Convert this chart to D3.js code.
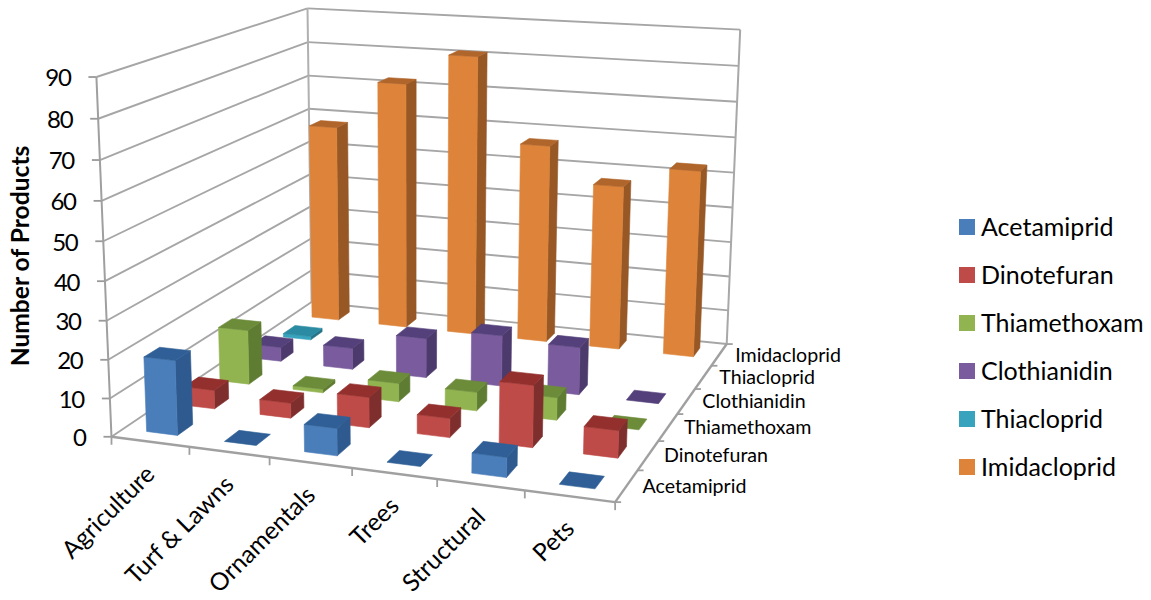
<!DOCTYPE html>
<html><head><meta charset="utf-8">
<script src="https://cdn.jsdelivr.net/npm/d3@7/dist/d3.min.js"></script>
<style>html,body{margin:0;background:#fff}svg{display:block}text{font-family:Lato,"Open Sans",sans-serif;fill:#000}</style>
</head><body><svg id="c" width="1151" height="600"></svg>
<script>
const categories = ["Agriculture","Turf & Lawns","Ornamentals","Trees","Structural","Pets"];
const seriesNames = ["Acetamiprid","Dinotefuran","Thiamethoxam","Clothianidin","Thiacloprid","Imidacloprid"];
const acetamiprid  = [19.5, 0, 7, 0, 5, 0];
const dinotefuran  = [5, 4, 8, 5, 16, 7];
const thiamethoxam = [15, 1, 5, 5, 6, 0];
const clothianidin = [4, 6, 11, 14, 13, 0];
const thiacloprid  = [1, null, null, null, null, null];
const imidacloprid = [58, 72, 81, 57, 47, 53];
const yTicks = [0,10,20,30,40,50,60,70,80,90];
const seriesValues = [acetamiprid,dinotefuran,thiamethoxam,clothianidin,thiacloprid,imidacloprid];
const faceColors = [
  {front:"#4a7ebb",top:"#2f5f96",side:"#2f5a8f"},
  {front:"#bf4b48",top:"#93302e",side:"#7e2f2d"},
  {front:"#92b450",top:"#6c8c3a",side:"#5f7c33"},
  {front:"#7a5c9e",top:"#54407a",side:"#4b3a6b"},
  {front:"#38a3bc",top:"#2b8ba3",side:"#267488"},
  {front:"#dd843a",top:"#b0652b",side:"#975826"}
];
// projection calibrated from the frame corners: [u,v,w] -> [px,py]
const frame = [
  [0,0,0,112,436],[1,0,0,615,503],[1,0,1,727,343],[0,0,1,311,303],
  [0,1,0,96,77],[0,1,1,308,8],[1,1,1,740,30]
];
function solveCamera(pts){
  const A=[],b=[];
  pts.forEach(([u,v,w,x,y])=>{
    A.push([u,v,w,1,0,0,0,0,-x*u,-x*v,-x*w]);b.push(x);
    A.push([0,0,0,0,u,v,w,1,-y*u,-y*v,-y*w]);b.push(y);
  });
  const n=11,M=[];
  for(let i=0;i<n;i++){M[i]=[];for(let j=0;j<n;j++)M[i][j]=d3.sum(A,r=>r[i]*r[j]);M[i][n]=d3.sum(A,(r,k)=>r[i]*b[k]);}
  for(let i=0;i<n;i++){
    let p=i;for(let r=i+1;r<n;r++)if(Math.abs(M[r][i])>Math.abs(M[p][i]))p=r;
    [M[i],M[p]]=[M[p],M[i]];
    for(let r=0;r<n;r++){if(r===i)continue;const f=M[r][i]/M[i][i];for(let c=i;c<=n;c++)M[r][c]-=f*M[i][c];}
  }
  return M.map((r,i)=>r[n]/r[i]);
}
const C=solveCamera(frame);
function proj(u,v,w){
  const d=C[8]*u+C[9]*v+C[10]*w+1;
  return [(C[0]*u+C[1]*v+C[2]*w+C[3])/d,(C[4]*u+C[5]*v+C[6]*w+C[7])/d];
}
const svg=d3.select("#c");
const xBand=d3.scaleBand().domain(categories).range([0,1]).paddingInner(0.6).paddingOuter(0.3);
const zBand=d3.scaleBand().domain(seriesNames).range([0,1]).paddingInner(0.6).paddingOuter(0.3);
const xStep=d3.scalePoint().domain(categories).range([0,1]).padding(0.5);
const zStep=d3.scalePoint().domain(seriesNames).range([0,1]).padding(0.5);
const yS=d3.scaleLinear().domain([0,90]).range([0,1]);
const line=d3.line();
const seg=(a,b,col,wd)=>svg.append("path").attr("d",line([proj(...a),proj(...b)])).attr("fill","none").attr("stroke",col).attr("stroke-width",wd);
const grid="#a6a6a6";
yTicks.forEach(t=>{const v=yS(t);
  seg([0,v,0],[0,v,1],grid,1.9);seg([0,v,1],[1,v,1],grid,1.9);
  const p=proj(0,v,0);
  svg.append("path").attr("d",line([[p[0]-8,p[1]],p])).attr("stroke","#9a9a9a").attr("stroke-width",1.8);
  svg.append("text").attr("x",p[0]-26).attr("y",p[1]+1).attr("dy","0.35em").attr("text-anchor","end").attr("font-size",24).attr("letter-spacing",-1.4).text(t);
});
seg([0,0,0],[0,1,0],"#9f9f9f",2);seg([0,0,1],[0,1,1],"#b0b0b0",2);seg([1,0,1],[1,1,1],"#a8a8a8",2);
seg([0,0,0],[1,0,0],"#a0a0a0",2.4);seg([1,0,0],[1,0,1],"#a0a0a0",2.4);
// floor ticks
d3.range(0,7).forEach(i=>{const p=proj(i/6,0,0);svg.append("path").attr("d",line([p,[p[0],p[1]+8]])).attr("stroke","#9f9f9f").attr("stroke-width",1.8);});
d3.range(0,7).forEach(i=>{const p=proj(1,0,i/6);svg.append("path").attr("d",line([p,[p[0]+6,p[1]]])).attr("stroke","#9f9f9f").attr("stroke-width",1.8);});
// bars, back to front, left to right
d3.range(seriesNames.length-1,-1,-1).forEach(si=>{
  const name=seriesNames[si],col=faceColors[si],w0=zBand(name),w1=w0+zBand.bandwidth();
  categories.forEach((cat,ci)=>{
    const val=seriesValues[si][ci]; if(val===null)return;
    const u0=xBand(cat),u1=u0+xBand.bandwidth(),h=yS(val);
    const g=svg.append("g");
    const poly=(pts,fill)=>g.append("path").attr("d",line(pts.map(p=>proj(...p)))+"Z").attr("fill",fill).attr("stroke",fill).attr("stroke-width",0.6).attr("stroke-linejoin","round");
    if(val>0){
      poly([[u1,0,w0],[u1,0,w1],[u1,h,w1],[u1,h,w0]],col.side);
      poly([[u0,0,w0],[u1,0,w0],[u1,h,w0],[u0,h,w0]],col.front);
    }
    poly([[u0,h,w0],[u1,h,w0],[u1,h,w1],[u0,h,w1]],col.top);
  });
});
// category labels
categories.forEach(cat=>{const p=proj(xStep(cat),0,0);
  svg.append("text").attr("transform",`translate(${p[0]},${p[1]+28}) rotate(-45)`).attr("text-anchor","end").attr("dy","0.35em").attr("font-size",24.5).text(cat);
});
// series labels
seriesNames.forEach(s=>{const p=proj(1,0,zStep(s));
  svg.append("text").attr("x",p[0]+16).attr("y",p[1]).attr("dy","0.35em").attr("font-size",19.6).text(s);
});
svg.append("text").attr("transform","translate(29,256) rotate(-90)").attr("text-anchor","middle").attr("font-size",24.6).attr("font-weight",700).text("Number of Products");
// legend
const legendY=d3.scalePoint().domain(seriesNames).range([227,467]);
seriesNames.forEach((s,i)=>{
  svg.append("rect").attr("x",959).attr("y",legendY(s)-8).attr("width",16).attr("height",16).attr("fill",faceColors[i].front);
  svg.append("text").attr("x",981).attr("y",legendY(s)).attr("dy","0.35em").attr("font-size",25).text(s);
});
</script></body></html>
